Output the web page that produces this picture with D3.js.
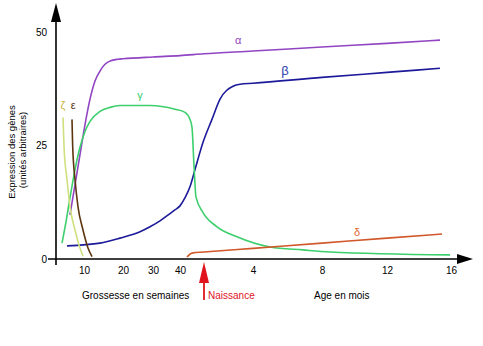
<!DOCTYPE html>
<html><head><meta charset="utf-8">
<script src="https://cdn.jsdelivr.net/npm/d3@7"></script>
<style>
body{margin:0;background:#fff;}
text{font-family:"Liberation Sans",Arial,Helvetica,sans-serif;}
</style></head>
<body><svg id="c" width="483" height="346"></svg>
<script>
// timeline t: prenatal weeks (0..40), birth at 42, postnatal months m -> 42 + m
const weekTicks = [10, 20, 30, 40];
const monthTicks = [4, 8, 12, 16];
const birthT = 42;
const yTicks = [0, 25, 50];

const alphaT = [5.0, 6.79, 8.57, 10.26, 11.54, 12.82, 14.1, 15.38, 16.67, 18.72, 20, 30, 40, 42, 46, 50, 54, 57.31];
const alphaV = [9.7, 16.4, 23.0, 29.6, 35.2, 39.2, 41.4, 42.9, 43.6, 44.0, 44.1, 44.5, 44.8, 45.2, 45.8, 46.7, 47.5, 48.2];

const betaT = [3.93, 14.1, 19.23, 25.67, 29, 32.6, 36.3, 38.1, 40, 40.42, 40.83, 41.25, 41.92, 42.65, 43.31, 44.37, 44.94, 46, 50, 54, 57.31];
const betaV = [2.9, 3.5, 4.6, 6.0, 7.1, 8.4, 10.0, 10.8, 11.7, 13.5, 15.9, 19.7, 25.7, 30.75, 35.2, 38.05, 38.5, 38.7, 40.0, 41.1, 42.0];

const gammaT = [2.14, 3.57, 5.0, 6.79, 8.57, 10.26, 11.54, 14.1, 16.67, 19.23, 29, 38.1, 40.42, 40.83, 41.0, 41.17, 41.33, 41.92, 43.06, 44.69, 46.99, 48.9, 50.49, 57.94];
const gammaV = [3.5, 8.2, 13.5, 19.7, 24.6, 28.1, 30.3, 32.5, 33.4, 33.8, 33.8, 33.0, 32.3, 30.75, 29.0, 20.35, 13.7, 10.2, 7.1, 4.9, 2.65, 2.0, 1.55, 0.9];

const deltaT = [40.58, 41.0, 42, 46, 50, 54, 57.44];
const deltaV = [0.44, 1.3, 1.53, 2.35, 3.5, 4.6, 5.5];

const zetaT = [2.5, 2.86, 3.93, 5.0, 6.79, 8.57, 9.64];
const zetaV = [31.2, 24.8, 17.5, 11.5, 6.4, 2.4, 0.6];

const epsT = [5.71, 5.96, 6.79, 7.86, 9.64, 11.03, 12.05];
const epsV = [30.75, 24.8, 17.5, 11.5, 6.4, 2.4, 0.5];

const svg = d3.select("#c");

const x = d3.scaleLinear()
  .domain([0, 10, 20, 30, 40, 42, 46, 50, 54, 58])
  .range([56, 84, 123, 153, 180, 204, 253, 322, 387, 451]);
const y = d3.scaleLinear().domain([0, 50]).range([259, 32]);

const line = d3.line().x(d => x(d[0])).y(d => y(d[1])).curve(d3.curveMonotoneX);

const series = [
  {name:"α", t:alphaT, v:alphaV, color:"#9145c2", lab:[44.78, 47.4], labColor:"#9145c2"},
  {name:"β", t:betaT, v:betaV, color:"#1d1a9a", lab:[47.86, 40.5], labColor:"#2a3fb0"},
  {name:"γ", t:gammaT, v:gammaV, color:"#3ccf6c", lab:[25.67, 35.2], labColor:"#3ccf6c"},
  {name:"δ", t:deltaT, v:deltaV, color:"#d1582a", lab:[52.15, 5.0], labColor:"#e0662f"},
  {name:"ζ", t:zetaT, v:zetaV, color:"#cfe07e", lab:[2.5, 33.1], labColor:"#c9b23c"},
  {name:"ε", t:epsT, v:epsV, color:"#5e3511", lab:[6.1, 33.1], labColor:"#5e3511"}
];

series.forEach(s => {
  svg.append("path")
    .attr("d", line(s.t.map((t, i) => [t, s.v[i]])))
    .attr("fill", "none").attr("stroke", s.color).attr("stroke-width", 1.6);
  svg.append("text").attr("x", x(s.lab[0])).attr("y", y(s.lab[1]))
    .attr("text-anchor", "middle").attr("font-size", s.name === "β" ? 13 : 11)
    .attr("font-family", "DejaVu Serif, serif")
    .attr("fill", s.labColor).text(s.name);
});

// axes lines
svg.append("line").attr("x1", 48).attr("x2", 458).attr("y1", 259).attr("y2", 259)
  .attr("stroke", "#000").attr("stroke-width", 1.6);
svg.append("path").attr("d", "M457,254 L473,259 L457,264 Z").attr("fill", "#000");
svg.append("line").attr("x1", 56).attr("x2", 56).attr("y1", 20).attr("y2", 265)
  .attr("stroke", "#000").attr("stroke-width", 1.6);
svg.append("path").attr("d", "M51,22 L56,3 L61,22 Z").attr("fill", "#000");

// y axis ticks via d3 axis
const yAx = svg.append("g").attr("transform", "translate(49,0)")
  .call(d3.axisLeft(y).tickValues(yTicks).tickSize(0).tickPadding(2));
yAx.select(".domain").remove();
yAx.selectAll("text").attr("font-size", 10).attr("font-family", "Liberation Sans, Arial, sans-serif").attr("fill", "#000");

// x axis ticks via d3 axis
const xTickVals = weekTicks.concat(monthTicks.map(m => birthT + m));
const xLabels = weekTicks.map(String).concat(monthTicks.map(String));
const xAx = svg.append("g").attr("transform", "translate(0,261)")
  .call(d3.axisBottom(x).tickValues(xTickVals).tickSize(0).tickPadding(6)
    .tickFormat((d, i) => xLabels[i]));
xAx.select(".domain").remove();
xAx.selectAll("text").attr("font-size", 10).attr("font-family", "Liberation Sans, Arial, sans-serif").attr("fill", "#000");

// axis titles
svg.append("text").attr("transform", "translate(15,152) rotate(-90)")
  .attr("text-anchor", "middle").attr("font-size", 9.5).text("Expression des gènes");
svg.append("text").attr("transform", "translate(26,150) rotate(-90)")
  .attr("text-anchor", "middle").attr("font-size", 9.5).text("(unités arbitraires)");

svg.append("text").attr("x", 82).attr("y", 299).attr("font-size", 10).text("Grossesse en semaines");
svg.append("text").attr("x", 314).attr("y", 299).attr("font-size", 10).text("Age en mois");
svg.append("text").attr("x", 208).attr("y", 299).attr("font-size", 10).attr("fill", "#e0141e").text("Naissance");

// birth arrow
const bx = x(birthT);
svg.append("line").attr("x1", bx).attr("x2", bx).attr("y1", 280).attr("y2", 300)
  .attr("stroke", "#e0141e").attr("stroke-width", 1.8);
svg.append("path").attr("d", `M${bx-5},283 L${bx},262 L${bx+5},283 Z`).attr("fill", "#e0141e");
</script></body></html>
